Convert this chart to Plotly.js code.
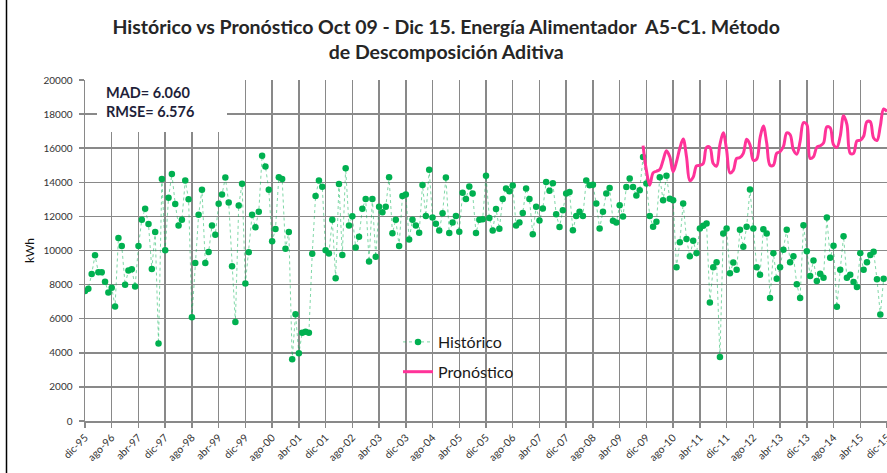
<!DOCTYPE html>
<html><head><meta charset="utf-8">
<script src="https://cdn.plot.ly/plotly-3.0.1.min.js"></script>
<style>html,body{margin:0;padding:0;background:#fff;} #chart{width:887px;height:473px;}</style>
</head><body><div id="chart"></div>
<script>
// Month names (Spanish) used to build the monthly category labels dic-95 ... dic-15
const monthNames = ["ene","feb","mar","abr","may","jun","jul","ago","sep","oct","nov","dic"];
const firstYear = 1995, firstMonthIdx = 11, nCategories = 241;
const categories = [];
for (let i = 0; i < nCategories; i++) {
  const k = firstMonthIdx + i;
  const yr = firstYear + Math.floor(k / 12);
  categories.push(monthNames[k % 12] + "-" + String(yr).slice(2));
}

const tickLabels = ["dic-95","ago-96","abr-97","dic-97","ago-98","abr-99","dic-99","ago-00","abr-01",
  "dic-01","ago-02","abr-03","dic-03","ago-04","abr-05","dic-05","ago-06","abr-07","dic-07","ago-08",
  "abr-09","dic-09","ago-10","abr-11","dic-11","ago-12","abr-13","dic-13","ago-14","abr-15","dic-15"];

// Histórico: monthly kWh from dic-95
const historico = [
  7620, 7760, 8620, 9720, 8720, 8720, 8170, 7530, 7810, 6720, 10730, 10270,
  7990, 8820, 8900, 7890, 10260, 11810, 12450, 11550, 8910, 11090, 4540, 14200,
  10010, 13100, 14480, 12730, 11460, 11810, 14100, 13010, 6090, 9270, 12100, 13560,
  9270, 9910, 11460, 10930, 12740, 13280, 14280, 12820, 9080, 5800, 12640, 13910,
  8070, 9900, 12100, 11360, 12270, 15550, 14920, 13560, 10540, 11260, 14290, 14200,
  10100, 11090, 3620, 6260, 3970, 5170, 5240, 5170, 9810, 13200, 14100, 13740,
  10020, 9830, 11810, 8370, 13900, 9730, 14830, 11460, 12010, 10180, 10810, 12450,
  13020, 9360, 13020, 9630, 12560, 12250, 12560, 14300, 11010, 11810, 10270, 13190,
  13290, 10650, 11810, 11460, 11040, 13840, 12030, 14730, 11930, 11570, 11180, 12180,
  14280, 11020, 11640, 12030, 11100, 13390, 13020, 13750, 13350, 11020, 11810, 11830,
  14380, 11910, 11170, 12430, 11270, 13020, 13640, 13480, 13810, 11460, 11640, 12200,
  13640, 13020, 10950, 12570, 11760, 12460, 14020, 13510, 13950, 12120, 11380, 12360,
  13350, 13430, 11190, 12030, 12270, 12030, 14110, 13820, 13860, 12750, 11290, 12280,
  13350, 13670, 11740, 11640, 12650, 11990, 13730, 14220, 13730, 13230, 13540, 15480,
  13930, 12030, 11390, 11680, 14290, 12940, 14390, 13030, 12940, 9020, 10480, 12760,
  10670, 9660, 10570, 9840, 11290, 11450, 11580, 6950, 9020, 9310, 3750, 11000,
  11290, 8670, 9290, 8870, 11210, 10220, 11390, 13580, 11290, 9020, 8580, 11250,
  11000, 7220, 9840, 8340, 9020, 10050, 11210, 9310, 9660, 8020, 7220, 11480,
  9950, 8500, 9410, 8210, 8640, 8400, 11930, 9570, 10280, 6700, 8870, 10830,
  8400, 8580, 8150, 7860, 9840, 8870, 9310, 9740, 9930, 8310, 6250, 8340
];

// Pronóstico: monthly kWh from nov-09 to dic-15
const pronosticoStartIdx = 167;
const pronostico = [
  16150, 14700, 13830, 14550, 14650, 14750, 15300, 15850, 15500, 14620, 15200, 16000, 16540,
  15500, 14100, 14300, 14960, 15000, 15100, 16050, 16050, 15100, 14950, 16200, 16900,
  15900, 14550, 14700, 15400, 15450, 15700, 16520, 16200, 15300, 15350, 16600, 17300,
  16300, 15000, 15000, 15700, 15800, 16100, 16900, 16800, 15900, 15650, 16400, 17500,
  17400, 15400, 15500, 16060, 16140, 16300, 17250, 17200, 16200, 16050, 16700, 17900,
  17400, 15700, 15700, 16430, 16470, 16700, 17550, 17550, 16600, 16450, 17300, 18300, 18150
];

const histX = categories.slice(0, historico.length);
const pronX = categories.slice(pronosticoStartIdx, pronosticoStartIdx + pronostico.length);

const gridCol = "#898989";
const fontFam = "Lato, 'Open Sans', sans-serif";

const traces = [
  {
    type: "scatter", mode: "lines+markers", name: "Histórico",
    x: histX, y: historico, legendgroup: "h",
    line: {color: "rgba(0,176,80,0.5)", width: 1, dash: "dot"},
    marker: {color: "#00b050", size: 6.5}
  },
  {
    type: "scatter", mode: "lines", name: "Pronóstico",
    x: pronX, y: pronostico, legendgroup: "p",
    line: {color: "#ff3399", width: 3, shape: "spline", smoothing: 1}
  }
];

const px = v => (v - 85) / 802;      // helper for paper coords (x)
const py = v => (421 - v) / 341;     // helper for paper coords (y)

const layout = {
  width: 887, height: 473,
  margin: {l: 85, r: 0, t: 80, b: 52},
  paper_bgcolor: "#fff", plot_bgcolor: "#fff",
  font: {family: fontFam, color: "#333"},
  title: {
    text: "<b>Histórico vs Pronóstico Oct 09 - Dic 15. Energía Alimentador  A5-C1. Método<br>de Descomposición Aditiva</b>",
    font: {family: fontFam, size: 19.5, color: "#262626"},
    x: 0.503, xanchor: "center", y: 0.929, yanchor: "top"
  },
  xaxis: {
    type: "category", range: [0, 240],
    tickmode: "array", tickvals: tickLabels, ticktext: tickLabels,
    tickangle: -45, tickfont: {size: 10.5, color: "#333"},
    showgrid: true, gridcolor: gridCol, gridwidth: 1.5,
    showline: true, linecolor: gridCol, linewidth: 1.5,
    ticks: "outside", ticklen: 5, tickcolor: gridCol, tickwidth: 1.5,
    zeroline: false, fixedrange: true
  },
  yaxis: {
    range: [0, 20000], dtick: 2000, tickformat: "d",
    tickfont: {size: 10, color: "#333"}, ticklabelstandoff: 4,
    title: {text: "kWh", font: {size: 12, color: "#111"}, standoff: 6},
    showgrid: true, gridcolor: gridCol, gridwidth: 1.5,
    showline: true, linecolor: gridCol, linewidth: 1.5,
    ticks: "outside", ticklen: 5, tickcolor: gridCol, tickwidth: 1.5,
    zeroline: false, fixedrange: true
  },
  legend: {
    x: px(398), y: py(325), xanchor: "left", yanchor: "top",
    bgcolor: "rgba(0,0,0,0)", font: {size: 16, color: "#1a1a1a"},
    tracegroupgap: 6
  },
  showlegend: true,
  shapes: [
    {type: "rect", xref: "paper", yref: "paper", x0: px(97), x1: px(227), y0: py(132), y1: py(78),
     fillcolor: "#fff", line: {width: 0}, layer: "above"},
    {type: "line", xref: "paper", yref: "paper", x0: px(6.5), x1: px(6.5), y0: py(473), y1: py(0),
     line: {color: "#000", width: 1.5}}
  ],
  annotations: [
    {xref: "paper", yref: "paper", x: px(104), y: py(82), xanchor: "left", yanchor: "top",
     align: "left", showarrow: false,
     text: "<b>MAD= 6.060<br>RMSE= 6.576</b>",
     font: {family: fontFam, size: 14.5, color: "#1f1f3a"}}
  ]
};

Plotly.newPlot("chart", traces, layout, {displayModeBar: false, staticPlot: true});
</script>
</body></html>
